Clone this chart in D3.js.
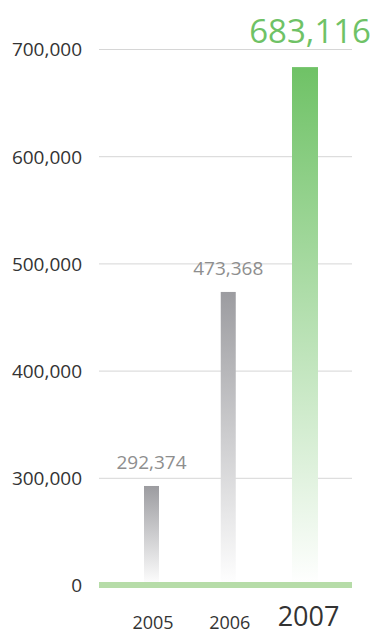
<!DOCTYPE html>
<html><head><meta charset="utf-8">
<script src="https://cdn.jsdelivr.net/npm/d3@7"></script>
<style>
html,body{margin:0;padding:0;background:#fff;}
svg{display:block;font-family:"Open Sans",sans-serif;}
</style></head>
<body><svg id="c" width="374" height="634"></svg>
<script>
const categories = ["2005", "2006", "2007"];
const values = [292374, 473368, 683116];
const valueLabels = ["292,374", "473,368", "683,116"];
const yTicks = [200000, 300000, 400000, 500000, 600000, 700000];
const yTickLabels = ["0", "300,000", "400,000", "500,000", "600,000", "700,000"];
const highlight = "2007";

const svg = d3.select("#c");
const x = d3.scalePoint().domain(categories).range([151.5, 305]);
const y = d3.scaleLinear().domain([200000, 700000]).range([585, 49]);
const left = 99, right = 352;

const defs = svg.append("defs");
const gGrey = defs.append("linearGradient").attr("id","gGrey").attr("x1",0).attr("y1",0).attr("x2",0).attr("y2",1);
gGrey.append("stop").attr("offset","0%").attr("stop-color","#9c9ca0");
gGrey.append("stop").attr("offset","100%").attr("stop-color","#ffffff");
const gGreen = defs.append("linearGradient").attr("id","gGreen").attr("x1",0).attr("y1",0).attr("x2",0).attr("y2",1);
gGreen.append("stop").attr("offset","0%").attr("stop-color","#6fc266");
gGreen.append("stop").attr("offset","100%").attr("stop-color","#ffffff");

// y axis via d3.axisLeft
const yAxis = d3.axisLeft(y).tickValues(yTicks).tickSize(0).tickPadding(0)
  .tickFormat((d,i) => yTickLabels[i]);
const ga = svg.append("g").attr("transform","translate(82,0)").call(yAxis);
ga.select(".domain").remove();
ga.selectAll("text").attr("font-family","Open Sans, sans-serif").attr("font-size",19)
  .attr("fill","#333").attr("dy","0.36em");

// gridlines
svg.append("g").selectAll("line").data(yTicks.slice(1)).join("line")
  .attr("x1",left).attr("x2",right).attr("y1",d=>y(d)+0.5).attr("y2",d=>y(d)+0.5)
  .attr("stroke","#d6d6d6").attr("stroke-width",1);

// bars
const bw = c => c === highlight ? 26 : 15;
svg.append("g").selectAll("rect").data(categories).join("rect")
  .attr("x", c => x(c) - bw(c)/2)
  .attr("width", c => bw(c))
  .attr("y", (c,i) => y(values[i]))
  .attr("height", (c,i) => y(200000) - y(values[i]))
  .attr("fill", c => c === highlight ? "url(#gGreen)" : "url(#gGrey)");

// baseline
svg.append("rect").attr("x",left).attr("width",right-left).attr("y",y(200000)-3).attr("height",6)
  .attr("fill","#b6dca8");

// value labels
svg.append("g").selectAll("text").data(categories).join("text")
  .attr("x", c => c === highlight ? 371 : x(c))
  .attr("y", (c,i) => c === highlight ? 43 : y(values[i]) - 17)
  .attr("text-anchor", c => c === highlight ? "end" : "middle")
  .attr("font-size", c => c === highlight ? 33 : 19)
  .attr("fill", c => c === highlight ? "#6fc266" : "#8e8e8e")
  .text((c,i) => valueLabels[i]);

// x labels
const xAxis = d3.axisBottom(x).tickSize(0).tickPadding(0);
const gx = svg.append("g").attr("transform","translate(0,629)").call(xAxis);
gx.select(".domain").remove();
gx.selectAll("text").attr("dy",0).attr("font-family","Open Sans, sans-serif")
  .attr("font-size", c => c === highlight ? 27 : 18)
  .attr("fill", "#333")
  .attr("y", c => c === highlight ? -3 : 0)
  .attr("x", c => c === highlight ? 3 : 1);
</script></body></html>
